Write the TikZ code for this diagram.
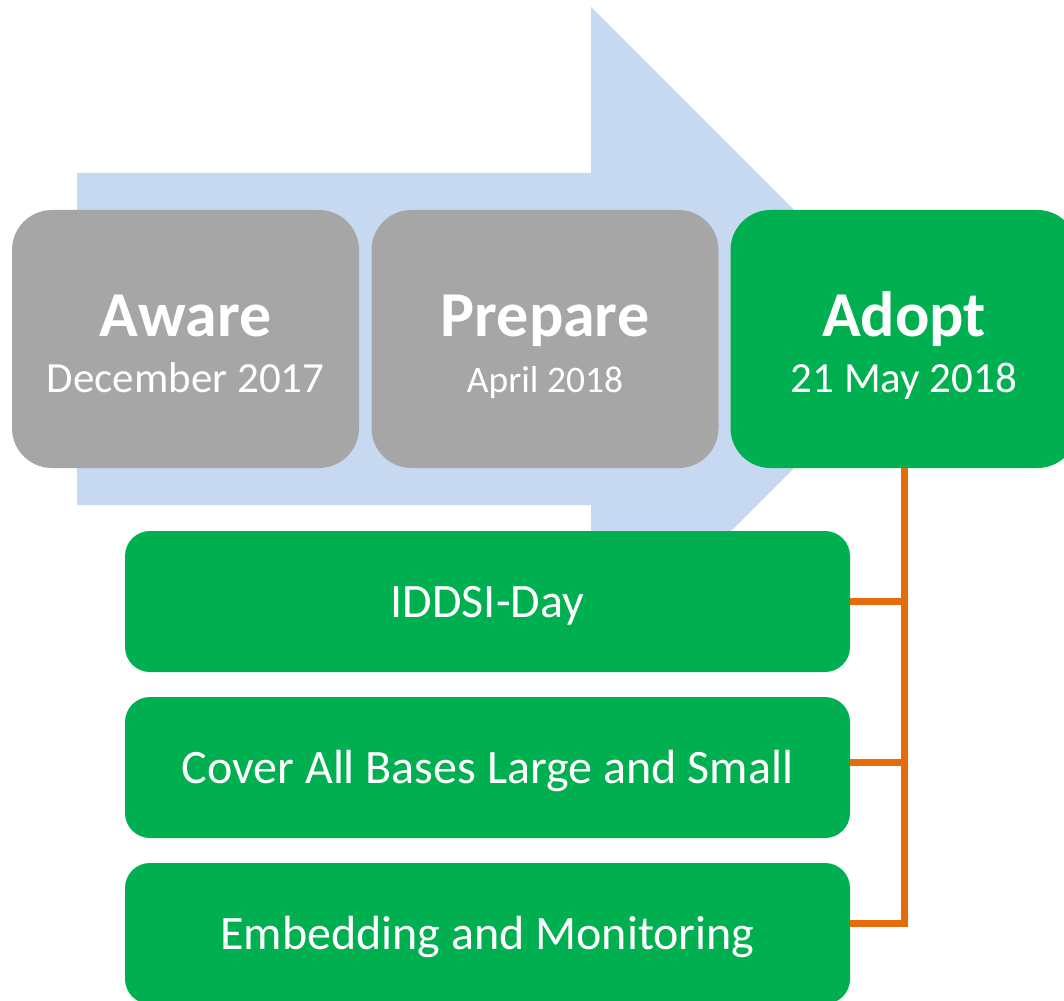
\documentclass[tikz,border=0pt]{standalone}
\usepackage{fontspec}
\setmainfont{Carlito}
\definecolor{arrowblue}{HTML}{C6D9F1}
\definecolor{stagegray}{HTML}{A6A6A6}
\definecolor{stagegreen}{HTML}{00B050}
\definecolor{linkorange}{HTML}{E46C0A}
\begin{document}
\begin{tikzpicture}[x=1pt, y=-1pt,
  stage/.style={rounded corners=40pt, minimum width=347pt, minimum height=258pt, inner sep=0pt},
  title/.style={anchor=base, text=white, font=\fontsize{64}{64}\selectfont\bfseries},
  date/.style={anchor=base, text=white, font=\fontsize{#1}{#1}\selectfont},
  task/.style={fill=stagegreen, rounded corners=25pt, minimum width=725pt, minimum height=141pt,
    inner sep=0pt, text=white, font=\fontsize{48}{48}\selectfont, text height=31pt, text depth=0pt},
  link/.style={draw=linkorange, line width=7pt}]
\useasboundingbox (0,0) rectangle (1064,1000);
\clip (0,0) rectangle (1064,1000);
% big arrow behind the stages
\fill[arrowblue] (77,173) -- (591,173) -- (591,7) -- (923,339) -- (591,671) -- (591,505) -- (77,505) -- cycle;
% the three stages
\foreach \name/\x/\col/\head/\when/\size in {aware/185.5/stagegray/Aware/December 2017/43,
    prepare/545/stagegray/Prepare/April 2018/37.5, adopt/904/stagegreen/Adopt/21 May 2018/43}{
  \node[stage, fill=\col] (\name) at (\x,339) {};
  \node[title] (\name-head) at (\x,336) {\head};
  \node[date=\size] (\name-when) at (\x,392) {\when};
}
% tasks under adopt
\node[task] (iddsi) at (487.5,601.5) {IDDSI-Day};
\node[task] (cover) at (487.5,767.5) {Cover All Bases Large and Small};
\node[task] (embed) at (487.5,933.5) {Embedding and Monitoring};
\draw[link] (adopt.south) |- ([yshift=10.5pt]embed.east);
\draw[link] (iddsi.east) -- (iddsi.east -| adopt.south);
\draw[link] ([yshift=5.5pt]cover.east) -- ([yshift=5.5pt]cover.east -| adopt.south);
\end{tikzpicture}
\end{document}
